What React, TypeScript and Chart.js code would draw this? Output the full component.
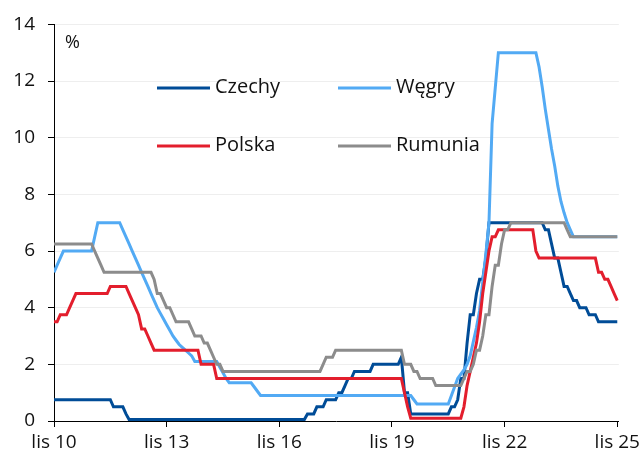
import React, { useEffect, useRef } from "react";
import { Chart, registerables } from "chart.js";

Chart.register(...registerables);

// Monthly policy rates, Nov 2010 (index 0) .. Nov 2025 (index 180); one row per year from November
const czechy = [
  0.75, 0.75, 0.75, 0.75, 0.75, 0.75, 0.75, 0.75, 0.75, 0.75, 0.75, 0.75,
  0.75, 0.75, 0.75, 0.75, 0.75, 0.75, 0.75, 0.5, 0.5, 0.5, 0.5, 0.25,
  0.05, 0.05, 0.05, 0.05, 0.05, 0.05, 0.05, 0.05, 0.05, 0.05, 0.05, 0.05,
  0.05, 0.05, 0.05, 0.05, 0.05, 0.05, 0.05, 0.05, 0.05, 0.05, 0.05, 0.05,
  0.05, 0.05, 0.05, 0.05, 0.05, 0.05, 0.05, 0.05, 0.05, 0.05, 0.05, 0.05,
  0.05, 0.05, 0.05, 0.05, 0.05, 0.05, 0.05, 0.05, 0.05, 0.05, 0.05, 0.05,
  0.05, 0.05, 0.05, 0.05, 0.05, 0.05, 0.05, 0.05, 0.05, 0.25, 0.25, 0.25,
  0.5, 0.5, 0.5, 0.75, 0.75, 0.75, 0.75, 1, 1, 1.25, 1.5, 1.5,
  1.75, 1.75, 1.75, 1.75, 1.75, 1.75, 2, 2, 2, 2, 2, 2,
  2, 2, 2, 2.25, 1, 1, 0.25, 0.25, 0.25, 0.25, 0.25, 0.25,
  0.25, 0.25, 0.25, 0.25, 0.25, 0.25, 0.25, 0.5, 0.5, 0.75, 1.5, 1.5,
  2.75, 3.75, 3.75, 4.5, 5, 5, 5.75, 7, 7, 7, 7, 7,
  7, 7, 7, 7, 7, 7, 7, 7, 7, 7, 7, 7,
  7, 6.75, 6.75, 6.25, 5.75, 5.75, 5.25, 4.75, 4.75, 4.5, 4.25, 4.25,
  4, 4, 4, 3.75, 3.75, 3.75, 3.5, 3.5, 3.5, 3.5, 3.5, 3.5,
  3.5,
];

const wegry = [
  5.25, 5.5, 5.75, 6, 6, 6, 6, 6, 6, 6, 6, 6,
  6, 6.5, 7, 7, 7, 7, 7, 7, 7, 7, 6.75, 6.5,
  6.25, 6, 5.75, 5.5, 5.25, 5, 4.75, 4.5, 4.25, 4, 3.8, 3.6,
  3.4, 3.2, 3, 2.85, 2.7, 2.6, 2.5, 2.4, 2.3, 2.1, 2.1, 2.1,
  2.1, 2.1, 2.1, 2.1, 2.1, 1.9, 1.7, 1.5, 1.35, 1.35, 1.35, 1.35,
  1.35, 1.35, 1.35, 1.35, 1.2, 1.05, 0.9, 0.9, 0.9, 0.9, 0.9, 0.9,
  0.9, 0.9, 0.9, 0.9, 0.9, 0.9, 0.9, 0.9, 0.9, 0.9, 0.9, 0.9,
  0.9, 0.9, 0.9, 0.9, 0.9, 0.9, 0.9, 0.9, 0.9, 0.9, 0.9, 0.9,
  0.9, 0.9, 0.9, 0.9, 0.9, 0.9, 0.9, 0.9, 0.9, 0.9, 0.9, 0.9,
  0.9, 0.9, 0.9, 0.9, 0.9, 0.9, 0.9, 0.75, 0.6, 0.6, 0.6, 0.6,
  0.6, 0.6, 0.6, 0.6, 0.6, 0.6, 0.6, 0.9, 1.2, 1.5, 1.65, 1.8,
  2, 2.3, 2.8, 3.3, 3.9, 4.9, 5.9, 7, 10.5, 11.75, 13, 13,
  13, 13, 13, 13, 13, 13, 13, 13, 13, 13, 13, 12.5,
  11.8, 11, 10.3, 9.6, 9, 8.3, 7.75, 7.35, 7, 6.75, 6.5, 6.5,
  6.5, 6.5, 6.5, 6.5, 6.5, 6.5, 6.5, 6.5, 6.5, 6.5, 6.5, 6.5,
  6.5,
];

const polska = [
  3.5, 3.5, 3.75, 3.75, 3.75, 4, 4.25, 4.5, 4.5, 4.5, 4.5, 4.5,
  4.5, 4.5, 4.5, 4.5, 4.5, 4.5, 4.75, 4.75, 4.75, 4.75, 4.75, 4.75,
  4.5, 4.25, 4, 3.75, 3.25, 3.25, 3, 2.75, 2.5, 2.5, 2.5, 2.5,
  2.5, 2.5, 2.5, 2.5, 2.5, 2.5, 2.5, 2.5, 2.5, 2.5, 2.5, 2,
  2, 2, 2, 2, 1.5, 1.5, 1.5, 1.5, 1.5, 1.5, 1.5, 1.5,
  1.5, 1.5, 1.5, 1.5, 1.5, 1.5, 1.5, 1.5, 1.5, 1.5, 1.5, 1.5,
  1.5, 1.5, 1.5, 1.5, 1.5, 1.5, 1.5, 1.5, 1.5, 1.5, 1.5, 1.5,
  1.5, 1.5, 1.5, 1.5, 1.5, 1.5, 1.5, 1.5, 1.5, 1.5, 1.5, 1.5,
  1.5, 1.5, 1.5, 1.5, 1.5, 1.5, 1.5, 1.5, 1.5, 1.5, 1.5, 1.5,
  1.5, 1.5, 1.5, 1.5, 1, 0.5, 0.1, 0.1, 0.1, 0.1, 0.1, 0.1,
  0.1, 0.1, 0.1, 0.1, 0.1, 0.1, 0.1, 0.1, 0.1, 0.1, 0.1, 0.5,
  1.25, 1.75, 2.25, 2.75, 3.5, 4.5, 5.25, 6, 6.5, 6.5, 6.75, 6.75,
  6.75, 6.75, 6.75, 6.75, 6.75, 6.75, 6.75, 6.75, 6.75, 6.75, 6, 5.75,
  5.75, 5.75, 5.75, 5.75, 5.75, 5.75, 5.75, 5.75, 5.75, 5.75, 5.75, 5.75,
  5.75, 5.75, 5.75, 5.75, 5.75, 5.75, 5.25, 5.25, 5, 5, 4.75, 4.5,
  4.25,
];

const rumunia = [
  6.25, 6.25, 6.25, 6.25, 6.25, 6.25, 6.25, 6.25, 6.25, 6.25, 6.25, 6.25,
  6.25, 6, 5.75, 5.5, 5.25, 5.25, 5.25, 5.25, 5.25, 5.25, 5.25, 5.25,
  5.25, 5.25, 5.25, 5.25, 5.25, 5.25, 5.25, 5.25, 5, 4.5, 4.5, 4.25,
  4, 4, 3.75, 3.5, 3.5, 3.5, 3.5, 3.5, 3.25, 3, 3, 3,
  2.75, 2.75, 2.5, 2.25, 2, 2, 1.75, 1.75, 1.75, 1.75, 1.75, 1.75,
  1.75, 1.75, 1.75, 1.75, 1.75, 1.75, 1.75, 1.75, 1.75, 1.75, 1.75, 1.75,
  1.75, 1.75, 1.75, 1.75, 1.75, 1.75, 1.75, 1.75, 1.75, 1.75, 1.75, 1.75,
  1.75, 1.75, 2, 2.25, 2.25, 2.25, 2.5, 2.5, 2.5, 2.5, 2.5, 2.5,
  2.5, 2.5, 2.5, 2.5, 2.5, 2.5, 2.5, 2.5, 2.5, 2.5, 2.5, 2.5,
  2.5, 2.5, 2.5, 2.5, 2, 2, 2, 1.75, 1.75, 1.5, 1.5, 1.5,
  1.5, 1.5, 1.25, 1.25, 1.25, 1.25, 1.25, 1.25, 1.25, 1.25, 1.25, 1.5,
  1.75, 1.75, 2, 2.5, 2.5, 3, 3.75, 3.75, 4.75, 5.5, 5.5, 6.25,
  6.75, 6.75, 7, 7, 7, 7, 7, 7, 7, 7, 7, 7,
  7, 7, 7, 7, 7, 7, 7, 7, 6.75, 6.5, 6.5, 6.5,
  6.5, 6.5, 6.5, 6.5, 6.5, 6.5, 6.5, 6.5, 6.5, 6.5, 6.5, 6.5,
  6.5,
];

const seriesNames = ["Czechy", "Węgry", "Polska", "Rumunia"];
const seriesColors = ["#004C97", "#52AAF4", "#E31E2D", "#8C8C8C"];
const xTickPositions = [0, 36, 72, 108, 144, 180];
const xTickLabels = ["lis 10", "lis 13", "lis 16", "lis 19", "lis 22", "lis 25"];
const yTickValues = [0, 2, 4, 6, 8, 10, 12, 14];
const unitLabel = "%";

const FONT = '"Open Sans", "DejaVu Sans", sans-serif';

const legendPlugin = {
  id: "customLegend",
  afterDatasetsDraw(chart: any) {
    const ctx = chart.ctx;
    const area = chart.chartArea;
    const slots = [
      { x: 157, y: 88 },
      { x: 338, y: 88 },
      { x: 157, y: 146 },
      { x: 338, y: 146 },
    ];
    ctx.save();
    chart.data.datasets.forEach((ds: any, i: number) => {
      const s = slots[i];
      ctx.strokeStyle = ds.borderColor;
      ctx.lineWidth = 3;
      ctx.lineCap = "butt";
      ctx.beginPath();
      ctx.moveTo(s.x, s.y);
      ctx.lineTo(s.x + 53, s.y);
      ctx.stroke();
      ctx.fillStyle = "#111111";
      ctx.font = `20px ${FONT}`;
      ctx.textBaseline = "middle";
      ctx.textAlign = "left";
      ctx.fillText(ds.label, s.x + 58, s.y - 1);
    });
    ctx.font = `18px ${FONT}`;
    ctx.textBaseline = "middle";
    ctx.fillText(unitLabel, area.left + 11, 43);
    ctx.restore();
  },
};

export default function App() {
  const canvasRef = useRef<HTMLCanvasElement | null>(null);

  useEffect(() => {
    document.body.style.margin = "0";
    const series = [czechy, wegry, polska, rumunia];
    const chart = new Chart(canvasRef.current as HTMLCanvasElement, {
      type: "line",
      data: {
        datasets: series.map((vals, i) => ({
          label: seriesNames[i],
          data: vals.map((v, k) => ({ x: k, y: v })),
          borderColor: seriesColors[i],
          backgroundColor: seriesColors[i],
          borderWidth: 3,
          pointRadius: 0,
          tension: 0,
          fill: false,
          order: 4 - i,
        })),
      },
      options: {
        animation: false,
        responsive: true,
        maintainAspectRatio: false,
        layout: { padding: { top: 23, right: 24, left: 0, bottom: 0 } },
        plugins: {
          legend: { display: false },
          tooltip: { enabled: false },
        },
        scales: {
          x: {
            type: "linear",
            min: 0,
            max: 180.5,
            afterBuildTicks: (scale: any) => {
              scale.ticks = xTickPositions.map((v) => ({ value: v }));
            },
            afterFit: (scale: any) => {
              scale.height = 36;
            },
            ticks: {
              autoSkip: false,
              maxRotation: 0,
              padding: 4,
              color: "#111111",
              font: { family: FONT, size: 19 },
              callback: (v: any) => {
                const idx = xTickPositions.indexOf(Number(v));
                return idx >= 0 ? xTickLabels[idx] : "";
              },
            },
            grid: {
              drawOnChartArea: false,
              drawTicks: true,
              tickLength: 6,
              tickColor: "#000000",
            },
            border: { display: true, color: "#000000", width: 1 },
          },
          y: {
            min: 0,
            max: 14,
            afterBuildTicks: (scale: any) => {
              scale.ticks = yTickValues.map((v) => ({ value: v }));
            },
            afterFit: (scale: any) => {
              scale.width = 54;
            },
            ticks: {
              padding: 13,
              color: "#111111",
              font: { family: FONT, size: 19 },
            },
            grid: {
              color: "#eeeeee",
              lineWidth: 1,
              drawTicks: true,
              tickLength: 6,
              tickColor: "#000000",
            },
            border: { display: true, color: "#000000", width: 1 },
          },
        },
      },
      plugins: [legendPlugin],
    } as any);
    return () => chart.destroy();
  }, []);

  return (
    <div style={{ position: "relative", width: 644, height: 457 }}>
      <canvas ref={canvasRef} />
    </div>
  );
}
